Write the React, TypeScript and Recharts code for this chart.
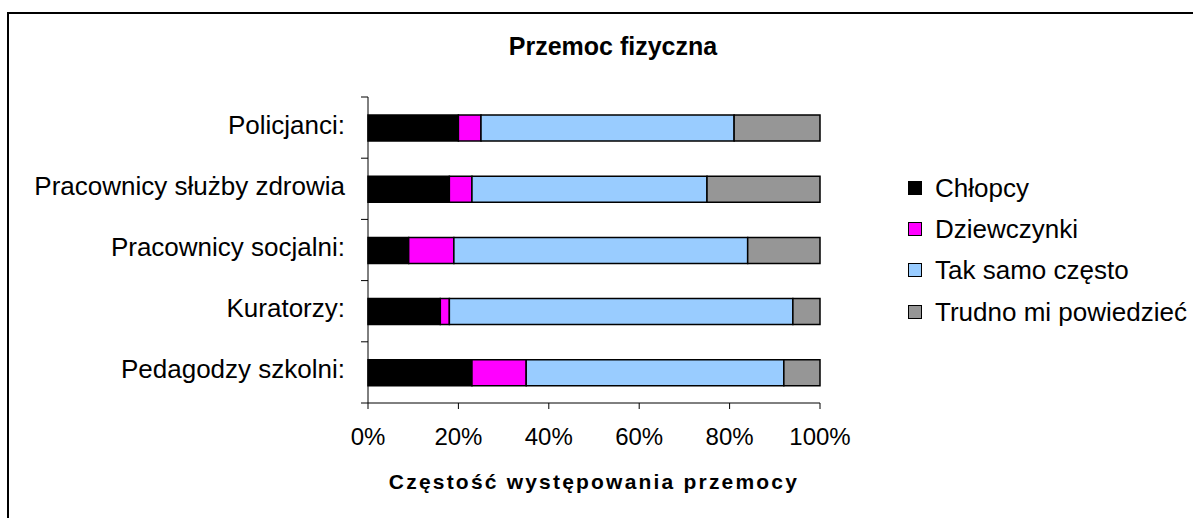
import { BarChart, Bar, XAxis, YAxis, Legend, Label } from "recharts";

const groups = [
  "Policjanci:",
  "Pracownicy służby zdrowia",
  "Pracownicy socjalni:",
  "Kuratorzy:",
  "Pedagodzy szkolni:",
];
const chlopcy = [20, 18, 9, 16, 23];
const dziewczynki = [5, 5, 10, 2, 12];
const takSamo = [56, 52, 65, 76, 57];
const trudno = [19, 25, 16, 6, 8];
const percentTicks = [0, 20, 40, 60, 80, 100];

const seriesKeys = ["chlopcy", "dziewczynki", "takSamo", "trudno"];
const seriesNames = ["Chłopcy", "Dziewczynki", "Tak samo często", "Trudno mi powiedzieć"];
const seriesColors = ["#000000", "#ff00ff", "#99ccff", "#969696"];

const data = groups.map((name, i) => ({
  name,
  chlopcy: chlopcy[i],
  dziewczynki: dziewczynki[i],
  takSamo: takSamo[i],
  trudno: trudno[i],
}));

const font = "'Liberation Sans', Arial, sans-serif";
const Y_TICK = 7;
const Y_MARGIN = 16;

// category labels sit in the band centre, tick marks on the band edges (Excel style)
function GroupTick(props: any) {
  const { x, y, payload, index, visibleTicksCount } = props;
  const half = payload.offset ?? 30.6;
  const axisX = x + Y_TICK + Y_MARGIN;
  const last = index === visibleTicksCount - 1;
  return (
    <g>
      <line x1={axisX - Y_TICK} x2={axisX} y1={y - half} y2={y - half} stroke="#000" />
      {last && (
        <line x1={axisX - Y_TICK} x2={axisX} y1={y + half} y2={y + half} stroke="#000" />
      )}
      <text
        x={x}
        y={y}
        dy={-3}
        textAnchor="end"
        dominantBaseline="central"
        fontSize={26}
        fontFamily={font}
        fill="#000"
      >
        {payload.value}
      </text>
    </g>
  );
}

function LegendBox() {
  return (
    <div style={{ fontFamily: font, fontSize: 26 }}>
      {seriesNames.map((n, i) => (
        <div key={n} style={{ display: "flex", alignItems: "center", height: 41.3 }}>
          <span
            style={{
              width: 12,
              height: 12,
              background: seriesColors[i],
              border: "1px solid #000",
              marginRight: 13,
              display: "inline-block",
            }}
          />
          <span style={{ lineHeight: "26px", whiteSpace: "nowrap" }}>{n}</span>
        </div>
      ))}
    </div>
  );
}

export default function App() {
  return (
    <div
      style={{
        position: "absolute",
        left: 0,
        top: 0,
        width: 1193,
        height: 518,
        overflow: "hidden",
        background: "#fff",
        fontFamily: font,
      }}
    >
      <div
        style={{
          position: "absolute",
          left: 7,
          top: 12,
          width: 1300,
          height: 600,
          border: "2px solid #000",
          boxSizing: "border-box",
        }}
      />
      <div
        style={{
          position: "absolute",
          left: 0,
          top: 33,
          width: 1226,
          textAlign: "center",
          fontWeight: "bold",
          fontSize: 25,
          lineHeight: "26px",
        }}
      >
        Przemoc fizyczna
      </div>
      <div style={{ position: "absolute", left: 0, top: 0 }}>
        <BarChart
          width={1193}
          height={518}
          data={data}
          layout="vertical"
          margin={{ top: 97, right: 373, bottom: 15, left: 8 }}
          barSize={26}
        >
          <XAxis
            type="number"
            domain={[0, 100]}
            ticks={percentTicks}
            tickFormatter={(v: number) => `${v}%`}
            height={100}
            tickSize={6}
            tickMargin={19}
            axisLine={{ stroke: "#000" }}
            tickLine={{ stroke: "#000" }}
            tick={{ fontSize: 24, fill: "#000", fontFamily: font }}
          >
            <Label
              value="Częstość występowania przemocy"
              position="insideBottom"
              offset={14}
              style={{
                fontSize: 21,
                fontWeight: "bold",
                fill: "#000",
                fontFamily: font,
                letterSpacing: 2.2,
              }}
            />
          </XAxis>
          <YAxis
            type="category"
            dataKey="name"
            width={360}
            tickSize={Y_TICK}
            tickMargin={Y_MARGIN}
            tickLine={false}
            axisLine={{ stroke: "#000" }}
            tick={<GroupTick />}
            interval={0}
          />
          <Legend
            layout="horizontal"
            align="center"
            verticalAlign="middle"
            content={<LegendBox />}
            wrapperStyle={{ position: "absolute", left: 908, top: 167, width: 285 }}
          />
          {seriesKeys.map((k, i) => (
            <Bar
              key={k}
              dataKey={k}
              name={seriesNames[i]}
              stackId="a"
              fill={seriesColors[i]}
              stroke="#000"
              strokeWidth={1.5}
              isAnimationActive={false}
            />
          ))}
        </BarChart>
      </div>
    </div>
  );
}
